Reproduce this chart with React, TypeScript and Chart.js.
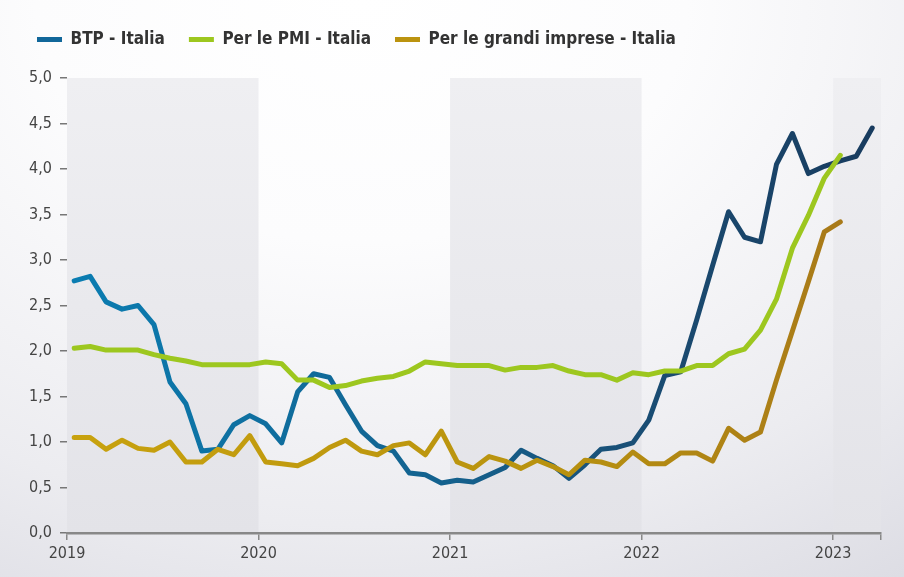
import React, { useEffect, useRef } from 'react';
import { Chart, registerables } from 'chart.js';

Chart.register(...registerables);

const years = ['2019', '2020', '2021', '2022', '2023'];
const seriesNames = ['BTP - Italia', 'Per le PMI - Italia', 'Per le grandi imprese - Italia'];

// monthly values, Jan 2019 onwards
const btp = [2.77, 2.82, 2.54, 2.46, 2.50, 2.29, 1.66, 1.42, 0.90, 0.92, 1.19, 1.29,
  1.20, 0.99, 1.55, 1.75, 1.71, 1.41, 1.12, 0.96, 0.90, 0.66, 0.64, 0.55,
  0.58, 0.56, 0.64, 0.72, 0.91, 0.82, 0.74, 0.60, 0.75, 0.92, 0.94, 0.99,
  1.24, 1.73, 1.77, 2.34, 2.94, 3.53, 3.25, 3.20, 4.05, 4.39, 3.95, 4.03,
  4.09, 4.14, 4.45];
const pmi = [2.03, 2.05, 2.01, 2.01, 2.01, 1.96, 1.92, 1.89, 1.85, 1.85, 1.85, 1.85,
  1.88, 1.86, 1.68, 1.68, 1.60, 1.62, 1.67, 1.70, 1.72, 1.78, 1.88, 1.86,
  1.84, 1.84, 1.84, 1.79, 1.82, 1.82, 1.84, 1.78, 1.74, 1.74, 1.68, 1.76,
  1.74, 1.78, 1.78, 1.84, 1.84, 1.97, 2.02, 2.23, 2.57, 3.13, 3.49, 3.90,
  4.15];
const grandi = [1.05, 1.05, 0.92, 1.02, 0.93, 0.91, 1.00, 0.78, 0.78, 0.92, 0.86, 1.07,
  0.78, 0.76, 0.74, 0.82, 0.94, 1.02, 0.90, 0.86, 0.96, 0.99, 0.86, 1.12,
  0.78, 0.71, 0.84, 0.79, 0.71, 0.80, 0.73, 0.64, 0.80, 0.78, 0.73, 0.89,
  0.76, 0.76, 0.88, 0.88, 0.79, 1.15, 1.02, 1.11, 1.68, 2.22, 2.76, 3.31,
  3.42];

const yMin = 0;
const yMax = 5;
const yStep = 0.5;
const monthsOnAxis = 51; // Jan 2019 .. Apr 2023

const FONT = '"Liberation Sans Narrow", "DejaVu Sans Condensed", "Roboto", Arial, sans-serif';

const toPoints = (arr: number[]) => arr.map((y, i) => ({ x: i + 0.45, y }));

function hGrad(chart: any, stops: [number, string][]) {
  const { ctx, chartArea } = chart;
  if (!chartArea) return stops[0][1];
  const g = ctx.createLinearGradient(chartArea.left, 0, chartArea.right, 0);
  stops.forEach(([o, c]) => g.addColorStop(o, c));
  return g;
}

const bandsPlugin = {
  id: 'bands',
  beforeDraw(chart: any) {
    const { ctx, chartArea, scales } = chart;
    const x = scales.x;
    const g = ctx.createLinearGradient(0, chartArea.top, 0, chartArea.bottom);
    g.addColorStop(0, '#efeff2');
    g.addColorStop(1, '#e3e3e8');
    ctx.save();
    ctx.fillStyle = g;
    for (let k = 0; k < years.length; k += 2) {
      const x0 = x.getPixelForValue(k * 12);
      const x1 = x.getPixelForValue(Math.min(k * 12 + 12, monthsOnAxis));
      ctx.fillRect(x0, chartArea.top, x1 - x0, chartArea.bottom - chartArea.top - 1);
    }
    ctx.restore();
  },
};

const legendHeightPlugin = {
  id: 'legendHeight',
  beforeUpdate(chart: any) {
    const lg = chart.legend;
    if (lg && !lg.__patched) {
      const orig = lg.fit.bind(lg);
      lg.fit = function () {
        orig();
        this.height = 71;
      };
      lg.__patched = true;
    }
  },
};

const swatch = ['#11679a', '#9dc71f', '#bb930f'];

export default function App() {
  const ref = useRef<HTMLCanvasElement>(null);
  useEffect(() => {
    document.body.style.margin = '0';
    const chart = new Chart(ref.current as HTMLCanvasElement, {
      type: 'line',
      data: {
        datasets: [
          {
            label: seriesNames[0],
            data: toPoints(btp),
            borderColor: (c: any) => hGrad(c.chart, [[0, '#0a7db2'], [0.45, '#13628f'], [0.75, '#1a4a70'], [1, '#183b5e']]),
            order: 3,
          },
          {
            label: seriesNames[1],
            data: toPoints(pmi),
            borderColor: '#9dc71f',
            order: 1,
          },
          {
            label: seriesNames[2],
            data: toPoints(grandi),
            borderColor: (c: any) => hGrad(c.chart, [[0, '#c8a20e'], [0.6, '#b8920f'], [1, '#a6761a']]),
            order: 2,
          },
        ].map((d) => ({
          ...d,
          borderWidth: 5,
          borderCapStyle: 'round' as const,
          borderJoinStyle: 'round' as const,
          pointRadius: 0,
          tension: 0,
          fill: false,
        })),
      },
      options: {
        animation: false,
        responsive: true,
        maintainAspectRatio: false,
        layout: { padding: { left: 13, right: 23, top: 7, bottom: 0 } },
        plugins: {
          tooltip: { enabled: false },
          legend: {
            position: 'top',
            align: 'start',
            labels: {
              boxWidth: 25,
              boxHeight: 5,
              useBorderRadius: true,
              borderRadius: 2.5,
              padding: 24,
              color: '#333333',
              font: { family: FONT, size: 17, weight: 'bold' },
              generateLabels: (chart: any) =>
                chart.data.datasets.map((d: any, i: number) => ({
                  text: d.label,
                  fillStyle: swatch[i],
                  strokeStyle: swatch[i],
                  lineWidth: 0,
                  fontColor: '#333333',
                  datasetIndex: i,
                  hidden: false,
                })),
            },
          },
        },
        scales: {
          x: {
            type: 'linear',
            min: 0,
            max: monthsOnAxis,
            afterBuildTicks: (s: any) => {
              s.ticks = [0, 12, 24, 36, 48, monthsOnAxis].map((v) => ({ value: v }));
            },
            afterFit: (s: any) => {
              s.height = 44;
            },
            ticks: {
              autoSkip: false,
              maxRotation: 0,
              padding: 4,
              color: '#444444',
              font: { family: FONT, size: 16 },
              callback: (v: any) => (v % 12 === 0 ? years[v / 12] : ''),
            },
            grid: { drawOnChartArea: false, drawTicks: true, tickLength: 7, color: '#888888', lineWidth: 1.5 },
            border: { display: true, color: '#888888', width: 2.5 },
          },
          y: {
            min: yMin,
            max: yMax,
            afterFit: (s: any) => {
              s.width = 54;
            },
            ticks: {
              stepSize: yStep,
              padding: 8,
              color: '#444444',
              font: { family: FONT, size: 16 },
              callback: (v: any) => Number(v).toFixed(1).replace('.', ','),
            },
            grid: { drawOnChartArea: false, drawTicks: true, tickLength: 7, color: '#777777', lineWidth: 1.5 },
            border: { display: false },
          },
        },
      },
      plugins: [bandsPlugin, legendHeightPlugin],
    });
    return () => chart.destroy();
  }, []);

  return (
    <div
      style={{
        position: 'relative',
        width: 904,
        height: 577,
        background:
          'radial-gradient(ellipse 120% 140% at 40% 0%, #ffffff 0%, #fcfcfd 30%, #ececf0 65%, #d4d4dd 100%)',
      }}
    >
      <canvas ref={ref} />
    </div>
  );
}
